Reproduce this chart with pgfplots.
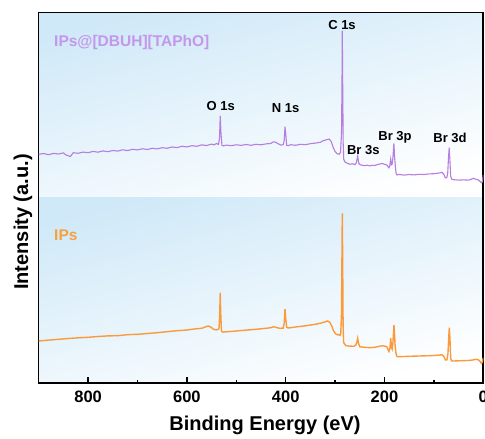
\documentclass[border=0pt]{standalone}
\usepackage{fontspec}
\setmainfont{Liberation Sans}
\usepackage{pgfplots}
\pgfplotsset{compat=1.18}
\definecolor{bgblue}{RGB}{208,233,248}
\definecolor{lpurple}{RGB}{181,126,224}
\definecolor{tpurple}{RGB}{196,151,236}
\definecolor{lorange}{RGB}{251,154,58}
\definecolor{torange}{RGB}{246,161,63}
\begin{document}
\begin{tikzpicture}
% background panels
\shade[top color=bgblue, bottom color=white, shading angle=15] (38.7pt,241pt) rectangle (483.3pt,426.3pt);
\shade[top color=bgblue, bottom color=white, shading angle=15] (38.7pt,55.7pt) rectangle (483.3pt,241pt);
\begin{axis}[
  at={(38.7pt,55.7pt)}, anchor=south west,
  scale only axis, width=444.6pt, height=370.6pt,
  x dir=reverse, xmin=0, xmax=900, ymin=0, ymax=370.6,
  xtick={0,200,400,600,800}, minor xtick={100,300,500,700},
  ytick=\empty, xtick pos=bottom, tick align=inside,
  major tick length=6pt, minor tick length=3pt,
  every tick/.style={black, line width=1.3pt},
  axis line style={line width=1.6pt},
  /pgf/number format/assume math mode=true,
  tick label style={font=\fontsize{16.5}{18}\selectfont\bfseries},
  xticklabel style={yshift=-4pt},
  xlabel={Binding Energy (eV)},
  label style={font=\fontsize{20}{22}\selectfont\bfseries},
  xlabel style={at={(rel axis cs:0.509,0)}, anchor=center, yshift=-41.7pt},
]
\addplot[lpurple, line width=1.1pt] coordinates {
(900,229.0) (890,229.8) (880,228.6) (870,229.9) (860,229.3) (850,230.4) (845,228.4) (836,226.8) (830,230.6) (820,230.0)
(810,231.2) (800,230.6) (790,231.9) (780,231.1) (770,232.4) (760,231.6) (750,232.8) (740,232.2) (730,233.5) (720,232.7)
(710,234.0) (700,233.4) (690,234.5) (680,233.8) (670,235.0) (660,234.4) (650,235.6) (640,235.0) (630,236.3) (620,235.7)
(610,237.0) (600,236.4) (590,237.6) (580,237.0) (570,238.4) (560,237.8) (550,239.2) (545,238.4) (540,239.8) (536,238.8)
(534,245) (532.5,267.3) (531,250) (529,238) (526,237.4) (520,238.2) (510,237.6) (500,238.5) (490,237.9) (480,238.8)
(470,238.0) (460,239.0) (450,238.5) (440,239.4) (430,239.8) (425,241.5) (420,241.0) (415,239.5) (410,238.2) (405,238.6)
(403,243) (401.4,256.6) (400,250) (398,238) (395,237.6) (390,238.6) (380,238.0) (370,239.0) (360,238.6) (350,239.6)
(340,240.2) (330,241.0) (325,242.4) (318,243.5) (312,244.2) (308,242.0) (304,236.0) (300,231.8) (296,229.6) (292,229.0)
(289,231) (287,250) (286,300) (285.4,352.6) (284.6,300) (283.6,240) (282.5,224) (280,221.2) (275,220.0) (270,219.0)
(265,219.6) (260,218.6) (257,220.5) (254.3,227.3) (252,220) (249,218.5) (245,218.0) (240,217.6) (235,218.2) (230,217.4)
(225,218.0) (220,217.8) (215,218.6) (210,219.2) (205,219.8) (200,219.0) (195,218.2) (191,215.5) (189.5,217) (187.4,224.3)
(186,218.5) (184.5,219) (183,225) (181,240) (179.5,226) (178,217) (176.5,210) (175,208.4) (170,208.8) (160,208.2)
(150,208.8) (140,208.4) (130,209.0) (120,208.8) (110,209.4) (100,209.6) (90,210.2) (84,211) (80,209) (77,205.5)
(74,205.6) (72,210) (70.5,225) (69,235.6) (67.5,222) (66,207) (64,204.2) (60,203.6) (50,203.2) (40,203.4)
(30,203.2) (25,204.0) (20,205.0) (15,204.0) (10,203.4) (7,202.0) (4,200.6) (2,201.5) (1,204.5) (0,208.3)
};
\addplot[lorange, line width=1.4pt] coordinates {
(900,42.3) (880,43.2) (860,44.0) (840,44.8) (820,45.5) (800,46.0) (780,46.8) (760,47.4) (740,47.6) (720,48.6)
(700,49.0) (680,49.8) (660,50.6) (640,51.6) (620,52.6) (600,53.3) (585,54.3) (570,55.0) (562,56.5) (557,57.3)
(552,56.4) (546,54.0) (540,53.4) (535,54.5) (533.5,70) (532.5,90.6) (531.5,70) (530,52.0) (527,51.2) (520,51.5)
(500,52.3) (480,53.2) (460,54.0) (440,55.0) (430,55.6) (425,56.6) (420,56.0) (412,55.0) (405,55.2) (403,60)
(401.4,74.3) (400,65) (398,56) (395,55.3) (380,56.3) (360,57.5) (340,59.0) (330,60.0) (320,61.5) (315,62.3)
(311,61.2) (307,57.5) (303,52.5) (299,49.5) (295,48.4) (292,48.8) (290,48.0) (288.5,50) (287,70) (286.2,120)
(285.4,170) (284.6,120) (283.8,60) (282.8,41) (281,39.5) (278,37.6) (270,37.2) (262,37.0) (258,38.2) (256,41)
(254.3,45) (252.5,40) (250,36.5) (240,36.0) (230,35.6) (220,36.0) (210,37.0) (205,37.6) (200,37.2) (195,36.3)
(191,31.8) (189,35) (187.4,45) (185.8,36) (184.5,34.3) (183,40) (181.5,52) (180.8,58.3) (180,52) (178.5,38)
(177,31) (175.5,27.5) (174,26.6) (160,26.8) (150,27.0) (130,27.3) (110,27.6) (100,27.8) (90,28.2) (84,28.6)
(80,27) (76.5,23.3) (73.5,23.5) (71.5,30) (70,45) (68.8,55.6) (67.5,45) (66,25) (64,22.4) (60,22.3)
(50,22.5) (40,22.7) (30,22.8) (20,23.4) (15,24.0) (10,23.4) (7,22.2) (4,20.0) (2,21.0) (1,23.3) (0,25.6)
};
\begin{scope}[every node/.style={font=\fontsize{13}{15}\selectfont\bfseries, inner sep=0pt, anchor=center}]
\node at (axis cs:286,358) {C 1s};
\node at (axis cs:531.6,277.3) {O 1s};
\node at (axis cs:400,275) {N 1s};
\node at (axis cs:242.9,233.3) {Br 3s};
\node at (axis cs:178.7,246) {Br 3p};
\node at (axis cs:67.4,245) {Br 3d};
\end{scope}
\node[font=\fontsize{15.5}{17}\selectfont\bfseries, text=tpurple, inner sep=0pt, anchor=base west] at (axis cs:869,336.6) {IPs@[DBUH][TAPhO]};
\node[font=\fontsize{15.5}{17}\selectfont\bfseries, text=torange, inner sep=0pt, anchor=base west] at (axis cs:869,142.8) {IPs};
\end{axis}
\node[font=\fontsize{20}{22}\selectfont\bfseries, rotate=90, inner sep=0pt, anchor=center] at (23pt,217pt) {Intensity (a.u.)};
\pgfresetboundingbox
\path (0,0) rectangle (485pt,439pt);
\end{tikzpicture}
\end{document}
